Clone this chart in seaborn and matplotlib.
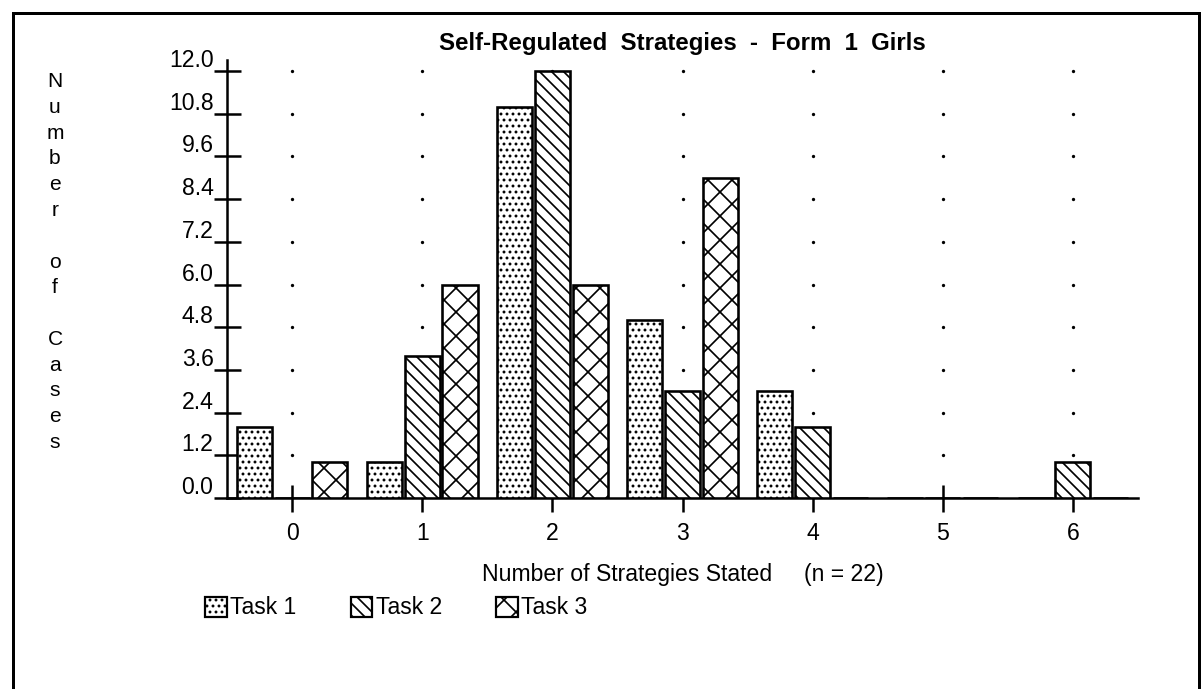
import matplotlib
matplotlib.use('Agg')
import matplotlib.pyplot as plt
from matplotlib.patches import Patch, Rectangle
from matplotlib.transforms import ScaledTranslation
import numpy as np
import pandas as pd
import seaborn as sns

# values
strategies = ['0', '1', '2', '3', '4', '5', '6']
tasks = ['Task 1', 'Task 2', 'Task 3']
task1 = [2, 1, 11, 5, 3, 0, 0]
task2 = [0, 4, 12, 3, 2, 0, 1]
task3 = [1, 6, 6, 9, 0, 0, 0]
yticks = [0.0, 1.2, 2.4, 3.6, 4.8, 6.0, 7.2, 8.4, 9.6, 10.8, 12.0]
hatches = ['..', '\\\\', 'x']

df = pd.DataFrame({
    'strategies': strategies * 3,
    'cases': task1 + task2 + task3,
    'task': np.repeat(tasks, len(strategies)),
})

sns.set_style('white')
plt.rcParams['font.family'] = ['Liberation Sans', 'DejaVu Sans']
plt.rcParams['hatch.linewidth'] = 1.7
plt.rcParams['hatch.color'] = 'black'
plt.rcParams['text.color'] = 'black'
plt.rcParams['axes.labelcolor'] = 'black'

W, H = 1202, 689
fig = plt.figure(figsize=(W / 72, H / 72), dpi=72)
ax = fig.add_axes([227 / W, 1 - 498 / H, (1138 - 227) / W, (498 - 60) / H])

sns.barplot(data=df, x='strategies', y='cases', hue='task', order=strategies,
            hue_order=tasks, palette=['white'] * 3, saturation=1,
            width=0.87, gap=0.07, edgecolor='black', linewidth=2.6,
            legend=False, ax=ax, zorder=3)
for cont, h in zip(ax.containers, hatches):
    for bar in cont:
        bar.set_hatch(h)

# dotted grid at each category / tick level
gx, gy = np.meshgrid(np.arange(len(strategies)), yticks[1:])
ax.scatter(gx.ravel(), gy.ravel(), s=11, color='black', linewidths=0, zorder=1)

ax.set_xlim(-0.5, 6.5)
ax.set_ylim(0, 12.31)
ax.set_yticks(yticks)
ax.set_yticklabels(['%.1f' % v for v in yticks])
ax.tick_params(axis='both', direction='inout', length=27, width=2.5,
               labelsize=23, colors='black', left=True, bottom=True)
ax.tick_params(axis='y', pad=0)
ax.tick_params(axis='x', pad=10)
for t in ax.yaxis.get_major_ticks():
    t.label1.set_transform(t.label1.get_transform() +
                           ScaledTranslation(0, 13 / 72, fig.dpi_scale_trans))

sns.despine(ax=ax)
for s in ['left', 'bottom']:
    ax.spines[s].set_linewidth(2.5)
    ax.spines[s].set_color('black')

ax.set_xlabel('Number of Strategies Stated     (n = 22)', fontsize=23, labelpad=18)
ax.set_ylabel('')
ax.set_title('Self-Regulated  Strategies  -  Form  1  Girls', fontsize=24,
             fontweight='bold', pad=10)

ylab = list('Number') + [''] + list('of') + [''] + list('Cases')
fig.text(55 / W, 1 - 262 / H, '\n'.join(ylab), ha='center', va='center',
         fontsize=21, linespacing=1.45)

handles = [Patch(facecolor='white', edgecolor='black', hatch=h, linewidth=2.2)
           for h in hatches]
fig.legend(handles, tasks, loc='center left', bbox_to_anchor=(205 / W, 1 - 608 / H),
           ncol=3, frameon=False, fontsize=23, handlelength=0.95, handleheight=0.95,
           handletextpad=0.15, columnspacing=2.35, borderaxespad=0, borderpad=0)

fig.add_artist(Rectangle((13 / W, -0.1), (1199 - 13) / W, 1.1 - 13 / H,
                         transform=fig.transFigure, fill=False, lw=3, ec='black'))

fig.savefig('out.png', dpi=72)
